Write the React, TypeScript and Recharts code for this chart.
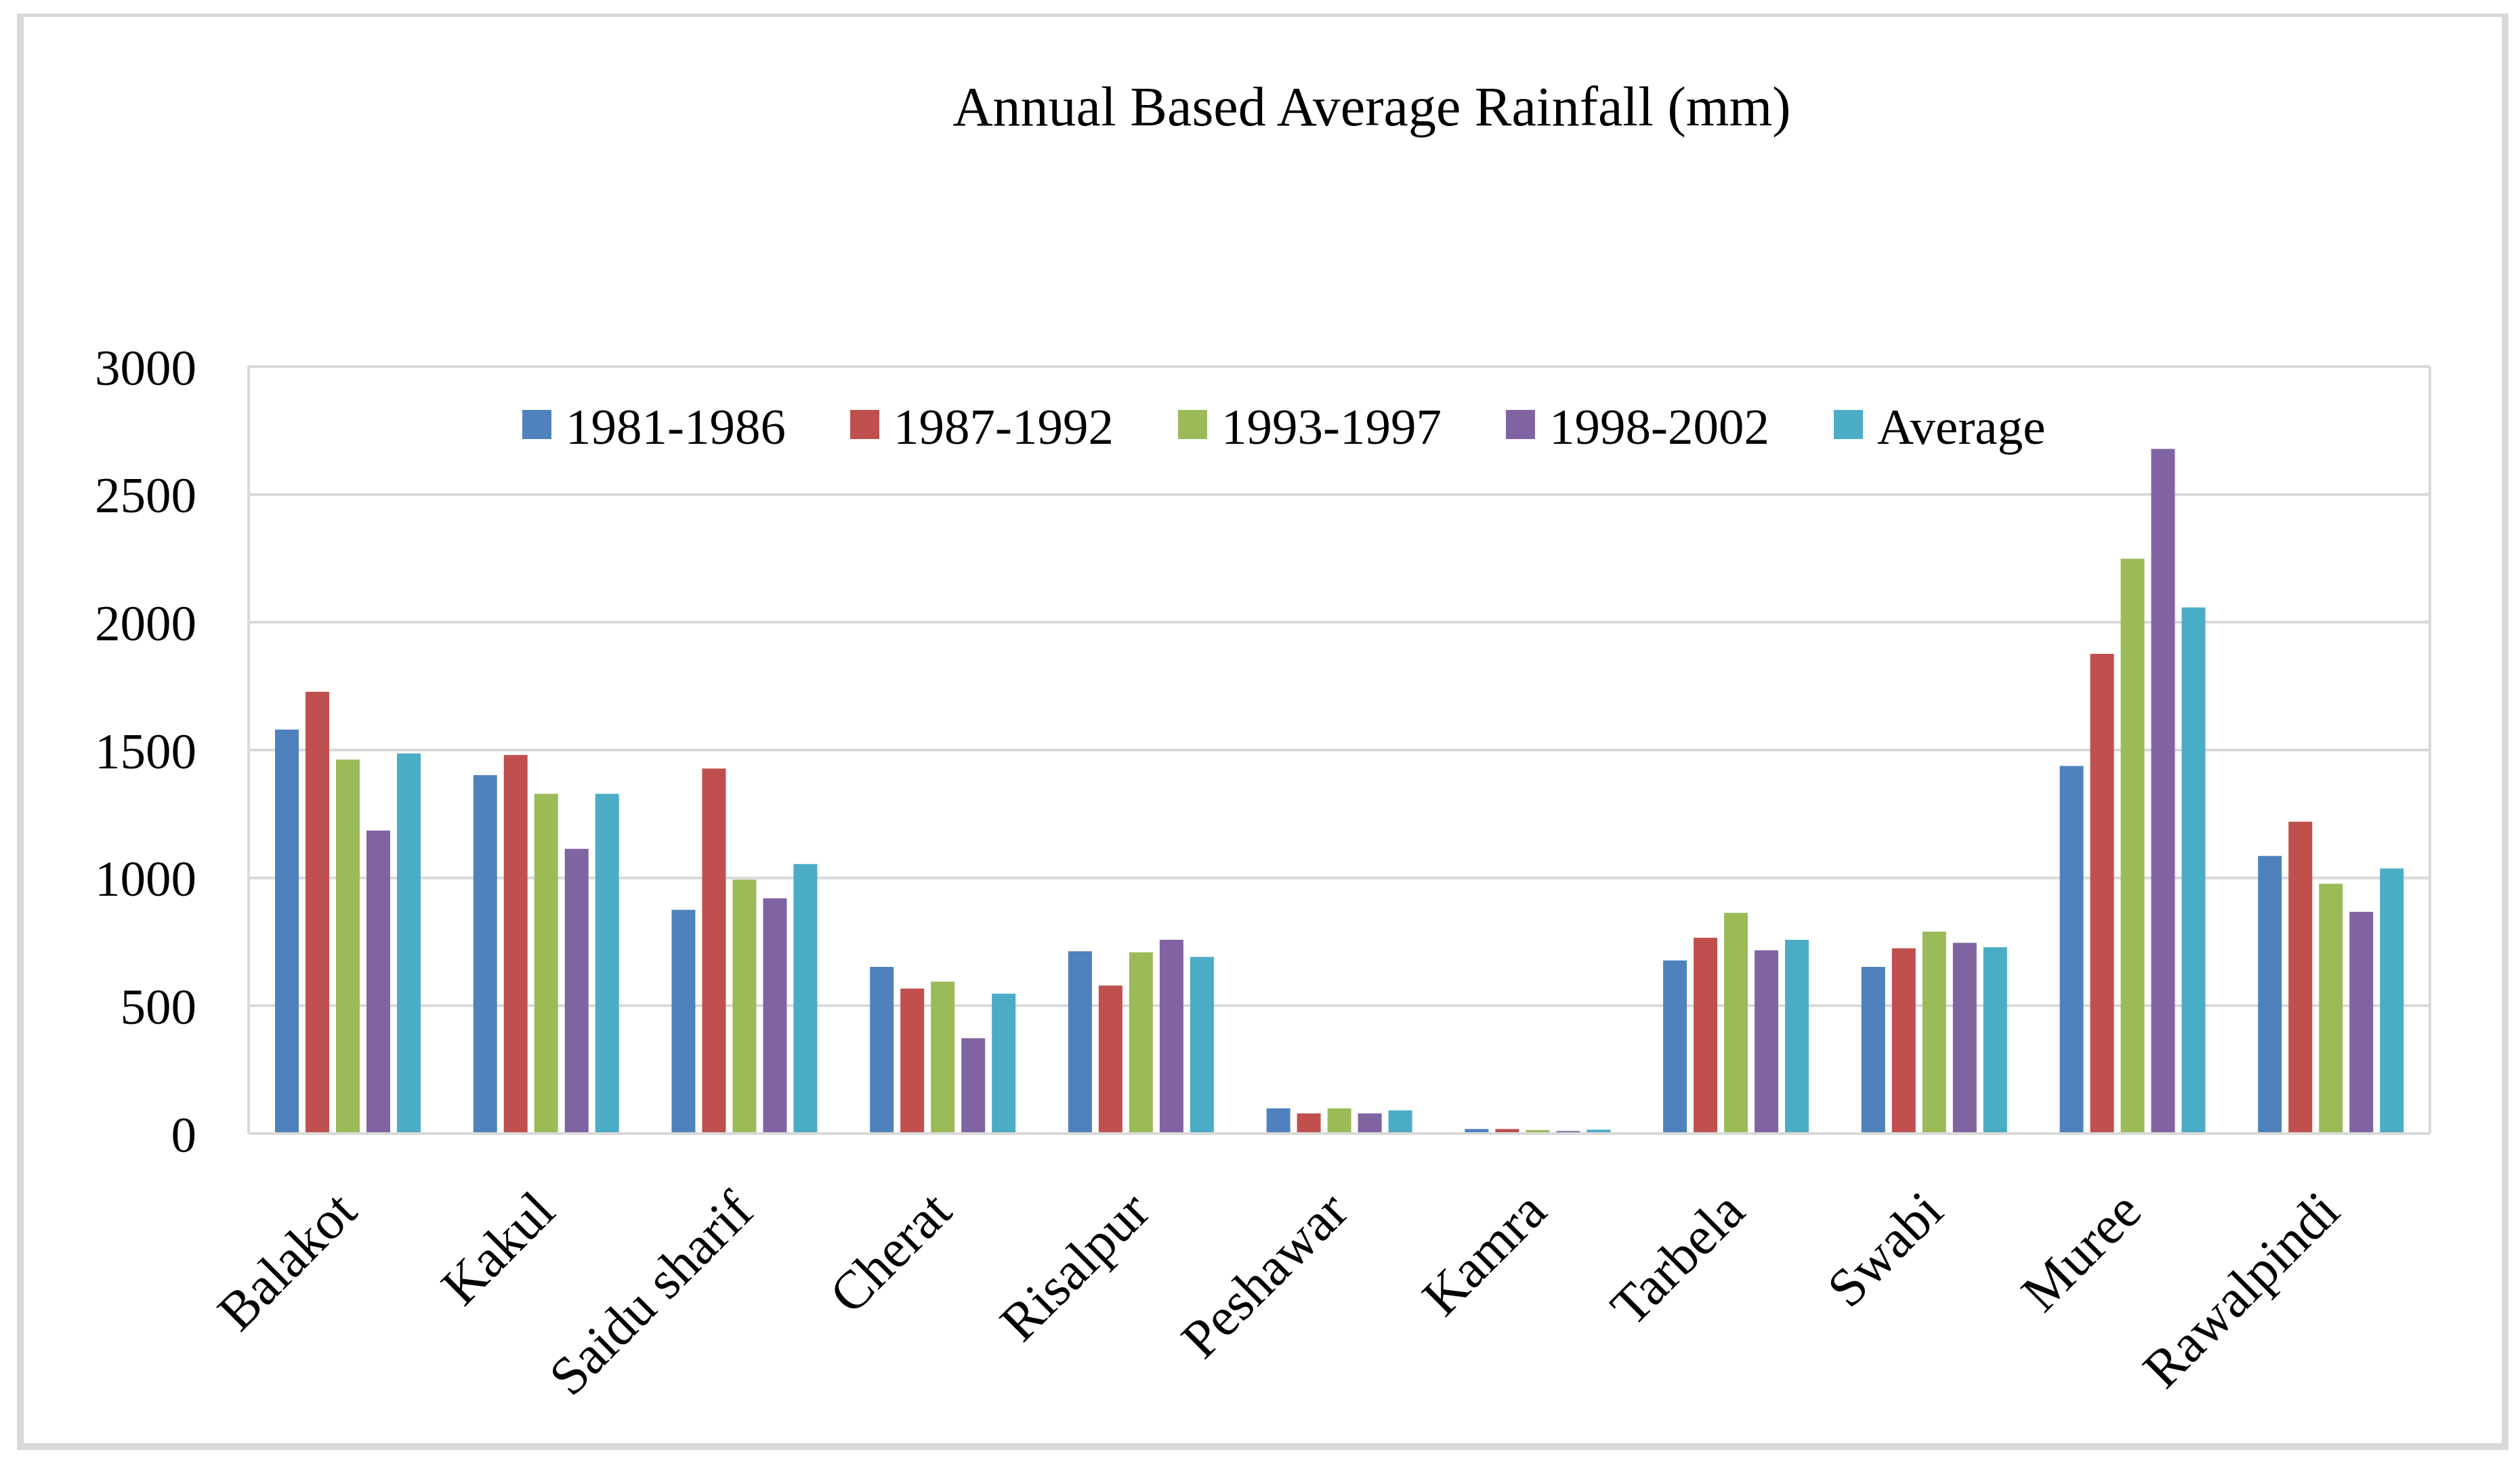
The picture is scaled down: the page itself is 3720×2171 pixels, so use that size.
import { BarChart, Bar, XAxis, YAxis, CartesianGrid, Legend } from "recharts";

const CITIES = [
  "Balakot",
  "Kakul",
  "Saidu sharif",
  "Cherat",
  "Risalpur",
  "Peshawar",
  "Kamra",
  "Tarbela",
  "Swabi",
  "Muree",
  "Rawalpindi",
];

const P_1981_1986 = [1580, 1402, 875, 652, 713, 99, 18, 677, 652, 1438, 1086];
const P_1987_1992 = [1728, 1481, 1428, 567, 579, 79, 18, 766, 725, 1876, 1220];
const P_1993_1997 = [1463, 1329, 993, 594, 709, 99, 14, 863, 790, 2249, 977];
const P_1998_2002 = [1185, 1114, 920, 373, 758, 79, 10, 717, 746, 2678, 867];
const P_AVERAGE = [1487, 1329, 1054, 547, 691, 91, 15, 758, 729, 2058, 1037];

const Y_TICKS = [0, 500, 1000, 1500, 2000, 2500, 3000];

const SERIES = [
  { key: "p1", name: "1981-1986", color: "#4f81bd" },
  { key: "p2", name: "1987-1992", color: "#c0504d" },
  { key: "p3", name: "1993-1997", color: "#9bbb59" },
  { key: "p4", name: "1998-2002", color: "#8064a2" },
  { key: "p5", name: "Average", color: "#4bacc6" },
];

const data = CITIES.map((city, i) => ({
  city,
  p1: P_1981_1986[i],
  p2: P_1987_1992[i],
  p3: P_1993_1997[i],
  p4: P_1998_2002[i],
  p5: P_AVERAGE[i],
}));

const FONT = "'Liberation Serif', 'Times New Roman', serif";
const GRID = "#d9d9d9";

function CityTick({ x, y, payload }: any) {
  return (
    <g transform={`translate(${x + 17},${y + 117}) rotate(-45)`}>
      <text x={0} y={0} textAnchor="end" fill="#000" fontFamily={FONT} fontSize={80}>
        {payload.value}
      </text>
    </g>
  );
}

function LegendContent() {
  return (
    <div style={{ display: "flex", alignItems: "center", fontFamily: FONT }}>
      {SERIES.map((s) => (
        <div key={s.key} style={{ display: "flex", alignItems: "center", width: 484, flex: "none" }}>
          <span style={{ width: 43, height: 43, background: s.color, marginRight: 21, flex: "none" }} />
          <span style={{ fontSize: 75, lineHeight: "43px", color: "#000", position: "relative", top: 3 }}>
            {s.name}
          </span>
        </div>
      ))}
    </div>
  );
}

export default function App() {
  return (
    <div style={{ position: "absolute", left: 0, top: 0, width: 3720, height: 2171, background: "#fff" }}>
      <div
        style={{
          position: "absolute",
          left: 25,
          top: 20,
          width: 3678,
          height: 2120,
          boxSizing: "border-box",
          borderStyle: "solid",
          borderColor: GRID,
          borderWidth: "5px 10px 10px 10px",
        }}
      />
      <div
        style={{
          position: "absolute",
          left: 1025,
          top: 117,
          width: 2000,
          textAlign: "center",
          fontFamily: FONT,
          fontSize: 82,
          lineHeight: 1,
          color: "#000",
          whiteSpace: "nowrap",
        }}
      >
        Annual Based Average Rainfall (mm)
      </div>
      <div style={{ position: "absolute", left: 0, top: 0 }}>
        <BarChart
          width={3720}
          height={2171}
          data={data}
          margin={{ top: 541, right: 133, left: 0, bottom: 98 }}
          barSize={35}
          barGap={10}
        >
          <CartesianGrid
            stroke={GRID}
            strokeWidth={4}
            verticalCoordinatesGenerator={({ offset }: any) => [offset.left, offset.left + offset.width]}
          />
          <XAxis
            dataKey="city"
            height={400}
            interval={0}
            tickLine={false}
            tickSize={0}
            axisLine={{ stroke: GRID, strokeWidth: 4 }}
            tick={<CityTick />}
          />
          <YAxis
            width={367}
            domain={[0, 3000]}
            ticks={Y_TICKS}
            interval={0}
            axisLine={false}
            tickLine={false}
            tickSize={0}
            tickMargin={77}
            tick={{ fill: "#000", fontFamily: FONT, fontSize: 75 }}
          />
          <Legend
            verticalAlign="middle"
            align="center"
            content={<LegendContent />}
            wrapperStyle={{ left: 771, top: 605, width: 2500 }}
          />
          {SERIES.map((s) => (
            <Bar key={s.key} dataKey={s.key} name={s.name} fill={s.color} isAnimationActive={false} />
          ))}
        </BarChart>
      </div>
    </div>
  );
}
